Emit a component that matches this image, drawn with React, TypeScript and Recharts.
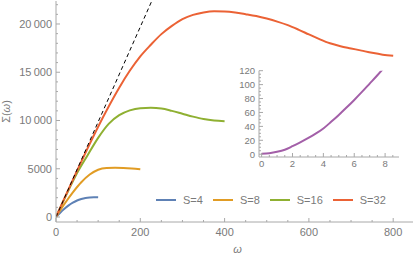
import { LineChart, Line, XAxis, YAxis, Legend } from 'recharts';

// S=4
const omegaS4 = [0, 10, 20, 30, 40, 50, 60, 70, 80, 90, 100];
const sigmaS4 = [0, 450, 850, 1200, 1480, 1710, 1870, 1980, 2030, 2045, 2040];

// S=8
const omegaS8 = [0, 20, 40, 60, 80, 100, 120, 140, 160, 180, 200];
const sigmaS8 = [0, 1350, 2550, 3600, 4400, 4900, 5080, 5110, 5090, 5030, 4940];

// S=16
const omegaS16 = [0, 25, 50, 75, 100, 125, 150, 175, 200, 225, 250, 275, 300, 325, 350, 375, 400];
const sigmaS16 = [0, 2350, 4550, 6400, 8200, 9650, 10550, 11050, 11280, 11320, 11250, 11000, 10700, 10400, 10150, 10000, 9930];

// S=32
const omegaS32 = [
  0, 25, 50, 75, 100, 125, 150, 175, 200, 225, 250, 275, 300, 325, 350, 375, 400, 425, 450, 475, 500, 525, 550,
  575, 600, 625, 650, 675, 700, 725, 750, 775, 800,
];
const sigmaS32 = [
  0, 2420, 4800, 7120, 9350, 11450, 13400, 15150, 16650, 17850, 18950, 19800, 20500, 20950, 21200, 21320, 21300,
  21200, 21020, 20820, 20560, 20250, 19880, 19420, 18920, 18430, 18000, 17700, 17470, 17240, 17010, 16820, 16700,
];

// dashed asymptote
const omegaLin = [0, 240];
const sigmaLin = [0, 23640];

// inset
const omegaInset = [0, 0.5, 1, 1.5, 2, 2.5, 3, 3.5, 4, 4.5, 5, 5.5, 6, 6.5, 7, 7.5, 8];
const sigmaInset = [0.5, 1.5, 3.5, 6.5, 11.5, 17, 23, 29.5, 37, 46.5, 56.5, 67, 78, 89.5, 101.5, 113.5, 126];

const seriesNames = ['S=4', 'S=8', 'S=16', 'S=32'];
const xTicks = [0, 50, 100, 150, 200, 250, 300, 350, 400, 450, 500, 550, 600, 650, 700, 750, 800];
const yTicks = Array.from({ length: 23 }, (_, i) => i * 1000);
const insetXTicks = [0, 0.5, 1, 1.5, 2, 2.5, 3, 3.5, 4, 4.5, 5, 5.5, 6, 6.5, 7, 7.5, 8, 8.5];
const insetYTicks = Array.from({ length: 25 }, (_, i) => i * 5);

const zip = (xs: number[], ys: number[]) => xs.map((w, i) => ({ w, s: ys[i] }));

const FRAME = '#a8a8a8';
const TEXT = '#7a7a7a';
const FONT = '"Liberation Sans", Arial, sans-serif';
const COLORS = ['#5e81b5', '#e19c24', '#8fb032', '#eb6235'];

const fmt = (v: number) => (v >= 10000 ? `${Math.floor(v / 1000)}\u2009${String(v % 1000).padStart(3, '0')}` : `${v}`);

function makeTick(side: 'bottom' | 'top' | 'left' | 'right', isMajor: (v: number) => boolean, labels: boolean, fontSize: number, gap: number) {
  return (props: any) => {
    const { x, y, payload } = props;
    const v = payload.value;
    const major = isMajor(v);
    const len = major ? 4 : 2;
    let line;
    if (side === 'bottom') line = <line x1={x} x2={x} y1={y} y2={y - len} stroke={FRAME} />;
    else if (side === 'top') line = <line x1={x} x2={x} y1={y} y2={y + len} stroke={FRAME} />;
    else if (side === 'left') line = <line x1={x} x2={x + len} y1={y} y2={y} stroke={FRAME} />;
    else line = <line x1={x} x2={x - len} y1={y} y2={y} stroke={FRAME} />;
    return (
      <g>
        {line}
        {labels && major && side === 'bottom' && (
          <text x={x} y={y + gap} textAnchor="middle" fill={TEXT} fontSize={fontSize} fontFamily={FONT}>
            {fmt(v)}
          </text>
        )}
        {labels && major && side === 'left' && (
          <text x={x - gap} y={y} dy="0.36em" textAnchor="end" fill={TEXT} fontSize={fontSize} fontFamily={FONT}>
            {fmt(v)}
          </text>
        )}
      </g>
    );
  };
}

const majX = (v: number) => v % 200 === 0;
const majY = (v: number) => v % 5000 === 0;
const majIX = (v: number) => v % 2 === 0;
const majIY = (v: number) => v % 20 === 0;

function LegendContent(props: any) {
  const items = (props.payload || [])
    .filter((p: any) => p.type !== 'none' && seriesNames.includes(p.value))
    .sort((a: any, b: any) => seriesNames.indexOf(a.value) - seriesNames.indexOf(b.value));
  return (
    <div style={{ display: 'flex', alignItems: 'center', fontFamily: FONT, fontSize: 11, color: TEXT }}>
      {items.map((it: any) => (
        <div key={it.value} style={{ display: 'flex', alignItems: 'center', marginRight: 10 }}>
          <svg width={20} height={6}>
            <line x1={0} x2={20} y1={3} y2={3} stroke={it.color} strokeWidth={2} />
          </svg>
          <span style={{ marginLeft: 7 }}>{it.value}</span>
        </div>
      ))}
    </div>
  );
}

export default function App() {
  const dataSets = [zip(omegaS4, sigmaS4), zip(omegaS8, sigmaS8), zip(omegaS16, sigmaS16), zip(omegaS32, sigmaS32)];
  const xDomain: [number, number] = [0, 847];
  const yDomain: [number, number] = [-518, 22383];
  return (
    <div style={{ position: 'absolute', left: 0, top: 0, width: 415, height: 259, background: '#fff' }}>
      <LineChart width={415} height={259} margin={{ top: 1, right: 2, bottom: 0, left: 0 }}>
        <XAxis
          xAxisId="b"
          type="number"
          dataKey="w"
          orientation="bottom"
          domain={xDomain}
          allowDataOverflow
          ticks={xTicks}
          interval={0}
          height={37}
          tickSize={0}
          tickMargin={0}
          tickLine={false}
          axisLine={{ stroke: FRAME }}
          tick={makeTick('bottom', majX, true, 11, 14)}
          label={(p: any) => (
            <text
              x={p.viewBox.x + p.viewBox.width / 2 + 3}
              y={253}
              textAnchor="middle"
              fill={TEXT}
              fontSize={11}
              fontStyle="italic"
              fontFamily={FONT}
            >
              ω
            </text>
          )}
        />
        <XAxis
          xAxisId="t"
          type="number"
          dataKey="w"
          orientation="top"
          domain={xDomain}
          allowDataOverflow
          ticks={xTicks}
          interval={0}
          height={0}
          tickSize={0}
          tickMargin={0}
          tickLine={false}
          axisLine={{ stroke: FRAME }}
          tick={makeTick('top', majX, false, 11, 0)}
        />
        <YAxis
          yAxisId="l"
          type="number"
          orientation="left"
          domain={yDomain}
          allowDataOverflow
          ticks={yTicks}
          interval={0}
          width={56}
          tickSize={0}
          tickMargin={0}
          tickLine={false}
          axisLine={{ stroke: FRAME }}
          tick={makeTick('left', majY, true, 11, 4)}
          label={(p: any) => {
            const cy = p.viewBox.y + p.viewBox.height / 2;
            return (
              <text x={10} y={cy} transform={`rotate(-90 10 ${cy})`} textAnchor="middle" fill={TEXT} fontSize={11} fontFamily={FONT}>
                Σ(<tspan fontStyle="italic">ω</tspan>)
              </text>
            );
          }}
        />
        <YAxis
          yAxisId="r"
          type="number"
          orientation="right"
          domain={yDomain}
          allowDataOverflow
          ticks={yTicks}
          interval={0}
          width={0}
          tickSize={0}
          tickMargin={0}
          tickLine={false}
          axisLine={{ stroke: FRAME }}
          tick={makeTick('right', majY, false, 11, 0)}
        />
        <Legend
          layout="horizontal"
          verticalAlign="middle"
          align="center"
          content={<LegendContent />}
          wrapperStyle={{ position: 'absolute', left: 156, top: 194, width: 'auto' }}
        />
        {dataSets.map((d, i) => (
          <Line
            key={seriesNames[i]}
            xAxisId="b"
            yAxisId="l"
            data={d}
            dataKey="s"
            name={seriesNames[i]}
            type="monotone"
            stroke={COLORS[i]}
            strokeWidth={2}
            dot={false}
            activeDot={false}
            legendType="plainline"
            isAnimationActive={false}
          />
        ))}
        <Line
          xAxisId="b"
          yAxisId="l"
          data={zip(omegaLin, sigmaLin)}
          dataKey="s"
          name="lin"
          type="linear"
          stroke="#000"
          strokeWidth={1}
          strokeDasharray="4 3"
          dot={false}
          activeDot={false}
          legendType="none"
          isAnimationActive={false}
        />
      </LineChart>
      <div style={{ position: 'absolute', left: 229, top: 66 }}>
        <LineChart width={173} height={105} margin={{ top: 4.7, right: 3, bottom: 0, left: 0 }}>
          <XAxis
            xAxisId="b"
            type="number"
            dataKey="w"
            orientation="bottom"
            domain={[-0.17, 8.9]}
            allowDataOverflow
            ticks={insetXTicks}
            interval={0}
            height={14}
            tickSize={0}
            tickMargin={0}
            tickLine={false}
            axisLine={{ stroke: FRAME }}
            tick={makeTick('bottom', majIX, true, 9.5, 10)}
          />
          <XAxis
            xAxisId="t"
            type="number"
            dataKey="w"
            orientation="top"
            domain={[-0.17, 8.9]}
            allowDataOverflow
            ticks={insetXTicks}
            interval={0}
            height={0}
            tickSize={0}
            tickMargin={0}
            tickLine={false}
            axisLine={{ stroke: FRAME }}
            tick={makeTick('top', majIX, false, 9.5, 0)}
          />
          <YAxis
            yAxisId="l"
            type="number"
            orientation="left"
            domain={[-4, 120]}
            allowDataOverflow
            ticks={insetYTicks}
            interval={0}
            width={30}
            tickSize={0}
            tickMargin={0}
            tickLine={false}
            axisLine={{ stroke: FRAME }}
            tick={makeTick('left', majIY, true, 9.5, 4)}
          />
          <YAxis
            yAxisId="r"
            type="number"
            orientation="right"
            domain={[-4, 120]}
            allowDataOverflow
            ticks={insetYTicks}
            interval={0}
            width={0}
            tickSize={0}
            tickMargin={0}
            tickLine={false}
            axisLine={{ stroke: FRAME }}
            tick={makeTick('right', majIY, false, 9.5, 0)}
          />
          <Line
            xAxisId="b"
            yAxisId="l"
            data={zip(omegaInset, sigmaInset)}
            dataKey="s"
            type="monotone"
            stroke="#a35fa8"
            strokeWidth={2}
            dot={false}
            activeDot={false}
            isAnimationActive={false}
          />
        </LineChart>
      </div>
    </div>
  );
}
